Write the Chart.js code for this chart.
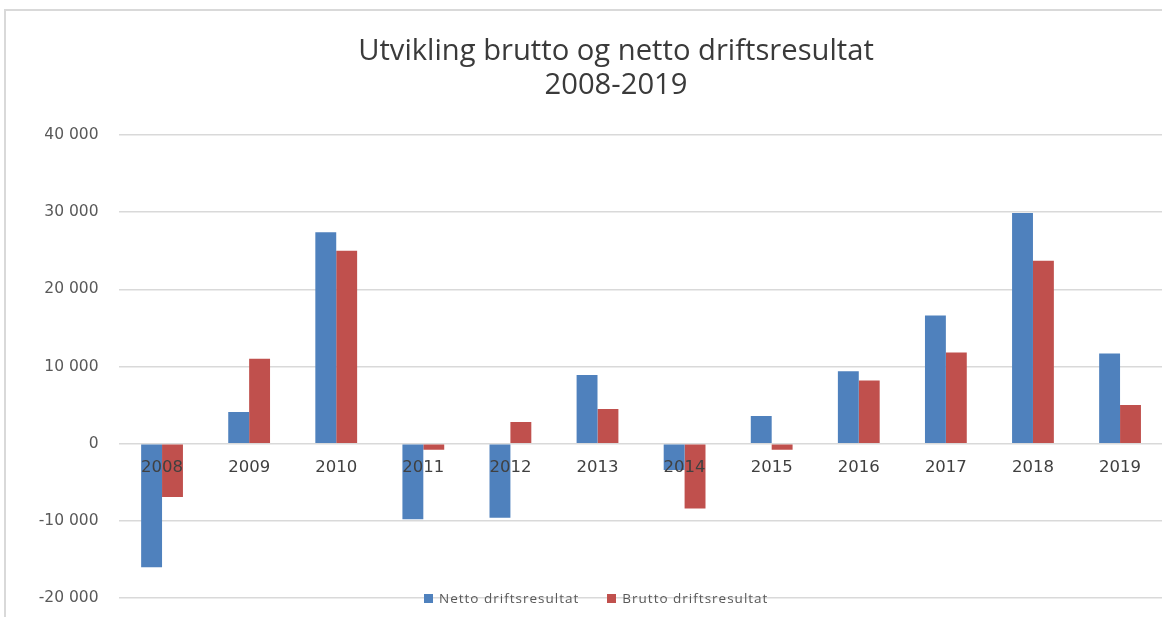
<!DOCTYPE html>
<html><head><meta charset="utf-8">
<script src="https://cdn.jsdelivr.net/npm/chart.js@4.4.1/dist/chart.umd.min.js"></script>
<style>
html,body{margin:0;padding:0;background:#fff;overflow:hidden;width:1162px;height:617px;}
#frame{position:absolute;left:4px;top:9px;width:1240px;height:660px;border-left:2px solid #d9d9d9;border-top:2px solid #d9d9d9;}
#wrap{position:absolute;left:0;top:0;width:1220px;height:640px;}
#legend{position:absolute;left:424px;top:589px;height:18px;display:flex;align-items:center;font-family:"Open Sans",sans-serif;font-size:13.5px;color:#595959;letter-spacing:1px;white-space:nowrap;}
#legend .item{display:flex;align-items:center;margin-right:28px;}
#legend .sw{width:9px;height:9px;margin-right:6px;}
</style>
</head><body>
<div id="frame"><div id="wrap"><canvas id="c"></canvas></div></div>
<div id="legend"></div>
<script>
const categories = ["2008","2009","2010","2011","2012","2013","2014","2015","2016","2017","2018","2019"];
const nettoLabel = "Netto driftsresultat";
const bruttoLabel = "Brutto driftsresultat";
const netto  = [-16000, 4100, 27400, -9800, -9600, 8900, -3400, 3600, 9400, 16600, 29900, 11700];
const brutto = [-6900, 11000, 25000, -800, 2800, 4500, -8400, -800, 8200, 11800, 23700, 5000];
const titleLines = ["Utvikling brutto og netto driftsresultat", "2008-2019"];
const yMin = -20000, yMax = 40000, yStep = 10000;

function fmt(v){
  const s = Math.abs(v).toString().replace(/\B(?=(\d{3})+(?!\d))/g, " ");
  return (v < 0 ? "-" : "") + s;
}

const chart = new Chart(document.getElementById("c"), {
  type: "bar",
  data: {
    labels: categories,
    datasets: [
      {label: nettoLabel, data: netto, backgroundColor: "#4F81BD", borderWidth: 0},
      {label: bruttoLabel, data: brutto, backgroundColor: "#C0504D", borderWidth: 0}
    ]
  },
  options: {
    responsive: true,
    maintainAspectRatio: false,
    animation: false,
    datasets: {bar: {categoryPercentage: 0.48, barPercentage: 1.0}},
    layout: {padding: {left: 0, right: 0, top: 0, bottom: 53}},
    plugins: {
      legend: {display: false},
      tooltip: {enabled: false},
      title: {
        display: true,
        text: titleLines,
        color: "#3a3a3a",
        font: {family: "Open Sans", size: 29.2, weight: "400", lineHeight: 34/29.2},
        padding: {top: 23.5, bottom: 32.5}
      }
    },
    scales: {
      x: {
        position: {y: 0},
        grid: {display: false, drawTicks: false},
        border: {display: false},
        ticks: {z: 1, color: "#404040", padding: 14, font: {family: "DejaVu Sans", size: 16.5}}
      },
      y: {
        min: yMin, max: yMax,
        afterFit(scale){ scale.width = 112.5; },
        grid: {color: "#d9d9d9", lineWidth: 1.5, drawTicks: false},
        border: {display: false},
        ticks: {stepSize: yStep, color: "#595959", padding: 20, font: {family: "DejaVu Sans", size: 15.5},
          callback: (v) => fmt(v)}
      },
      yRightSpace: {
        position: "right",
        min: yMin, max: yMax,
        afterFit(scale){ scale.width = 62.4; },
        grid: {display: false, drawTicks: false},
        border: {display: false},
        ticks: {display: false}
      }
    }
  }
});

const leg = document.getElementById("legend");
chart.data.datasets.forEach(ds => {
  const it = document.createElement("div"); it.className = "item";
  const sw = document.createElement("div"); sw.className = "sw"; sw.style.background = ds.backgroundColor;
  const tx = document.createElement("span"); tx.textContent = ds.label;
  it.appendChild(sw); it.appendChild(tx); leg.appendChild(it);
});
</script>
</body></html>
